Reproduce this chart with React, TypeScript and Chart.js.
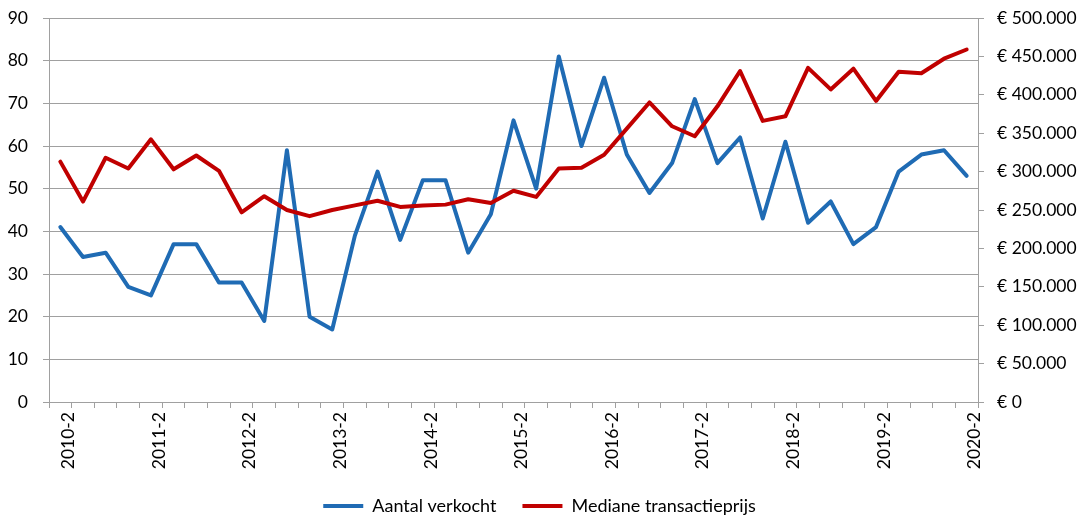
import { useEffect, useRef } from 'react';
import { Chart, registerables } from 'chart.js';

Chart.register(...registerables);

const categories = [
  '2010-2', '2010-3', '2010-4', '2011-1', '2011-2', '2011-3', '2011-4', '2012-1',
  '2012-2', '2012-3', '2012-4', '2013-1', '2013-2', '2013-3', '2013-4', '2014-1',
  '2014-2', '2014-3', '2014-4', '2015-1', '2015-2', '2015-3', '2015-4', '2016-1',
  '2016-2', '2016-3', '2016-4', '2017-1', '2017-2', '2017-3', '2017-4', '2018-1',
  '2018-2', '2018-3', '2018-4', '2019-1', '2019-2', '2019-3', '2019-4', '2020-1',
  '2020-2',
];

const aantalVerkocht = [
  41, 34, 35, 27, 25, 37, 37, 28, 28, 19, 59, 20, 17, 39, 54, 38, 52, 52, 35, 44,
  66, 50, 81, 60, 76, 58, 49, 56, 71, 56, 62, 43, 61, 42, 47, 37, 41, 54, 58, 59,
  53,
];

const medianePrijs = [
  313000, 261000, 318000, 304000, 342000, 303000, 321000, 301000, 247000, 268000,
  250000, 242000, 250000, 256000, 262000, 254000, 256000, 257000, 264000, 259000,
  275000, 267000, 304000, 305000, 322000, 356000, 390000, 359000, 346000, 385000,
  431000, 366000, 372000, 435000, 407000, 434000, 392000, 430000, 428000, 447000,
  459000,
];

const leftTicks = { min: 0, max: 90, step: 10 };
const rightTicks = { min: 0, max: 500000, step: 50000 };

const BLUE = '#1f6bb4';
const RED = '#c00000';
const GRID = '#a0a0a0';
const FONT = 'Lato';
const TICK_SIZE = 17.5;

function euro(v: number): string {
  if (v === 0) return '€ 0';
  return '€ ' + String(v).replace(/\B(?=(\d{3})+(?!\d))/g, '.');
}

export default function App() {
  const ref = useRef<HTMLCanvasElement | null>(null);

  useEffect(() => {
    if (!ref.current) return;
    const chart = new Chart(ref.current, {
      type: 'line',
      data: {
        labels: categories,
        datasets: [
          {
            label: 'Aantal verkocht',
            data: aantalVerkocht,
            borderColor: BLUE,
            backgroundColor: BLUE,
            borderWidth: 4,
            pointRadius: 0,
            tension: 0,
            borderJoinStyle: 'round',
            borderCapStyle: 'round',
            yAxisID: 'y',
            order: 1,
          },
          {
            label: 'Mediane transactieprijs',
            data: medianePrijs,
            borderColor: RED,
            backgroundColor: RED,
            borderWidth: 4,
            pointRadius: 0,
            tension: 0,
            borderJoinStyle: 'round',
            borderCapStyle: 'round',
            yAxisID: 'y1',
            order: 0,
          },
        ],
      },
      options: {
        animation: false,
        responsive: false,
        maintainAspectRatio: false,
        layout: { padding: { top: 18, left: 0, right: 0, bottom: -5 } },
        plugins: {
          tooltip: { enabled: false },
          legend: {
            position: 'bottom',
            labels: {
              font: { family: FONT, size: 18 },
              color: '#000',
              boxWidth: 40,
              boxHeight: 4,
              padding: 26,
              sort: (a: any, b: any) => a.datasetIndex - b.datasetIndex,
              generateLabels: (c: any) => {
                const items = Chart.defaults.plugins.legend.labels.generateLabels(c);
                items.forEach((it: any) => {
                  it.lineWidth = 0;
                });
                return items;
              },
            },
          },
        },
        scales: {
          x: {
            type: 'category',
            offset: true,
            grid: {
              offset: true,
              drawOnChartArea: false,
              drawTicks: true,
              tickLength: 6,
              color: GRID,
            },
            border: { display: true, color: GRID, width: 1 },
            ticks: {
              autoSkip: false,
              maxRotation: 90,
              minRotation: 90,
              padding: 4,
              labelOffset: 8,
              color: '#000',
              font: { family: FONT, size: TICK_SIZE },
              callback: (_v: any, i: number) => (i % 4 === 0 ? categories[i] : ''),
            },
            afterFit: (s: any) => {
              s.height = 69;
            },
          },
          y: {
            position: 'left',
            min: leftTicks.min,
            max: leftTicks.max,
            grid: { color: GRID, tickLength: 6, drawTicks: true },
            border: { display: true, color: GRID, width: 1 },
            ticks: {
              stepSize: leftTicks.step,
              padding: 15,
              color: '#000',
              font: { family: FONT, size: TICK_SIZE },
            },
            afterFit: (s: any) => {
              s.width = 49;
              s.paddingTop = 10;
              s.paddingBottom = 10;
            },
          },
          y1: {
            position: 'right',
            min: rightTicks.min,
            max: rightTicks.max,
            grid: { drawOnChartArea: false, color: GRID, tickLength: 6, drawTicks: true },
            border: { display: true, color: GRID, width: 1 },
            ticks: {
              stepSize: rightTicks.step,
              padding: 13,
              color: '#000',
              font: { family: FONT, size: TICK_SIZE },
              callback: (v: any) => euro(Number(v)),
            },
            afterFit: (s: any) => {
              s.width = 101;
              s.paddingTop = 10;
              s.paddingBottom = 10;
            },
          },
        },
      },
    });
    return () => chart.destroy();
  }, []);

  return (
    <div style={{ position: 'fixed', left: 0, top: 0, width: 1079, height: 520, background: '#fff' }}>
      <canvas ref={ref} width={1079} height={520} style={{ width: 1079, height: 520, display: 'block' }} />
    </div>
  );
}
